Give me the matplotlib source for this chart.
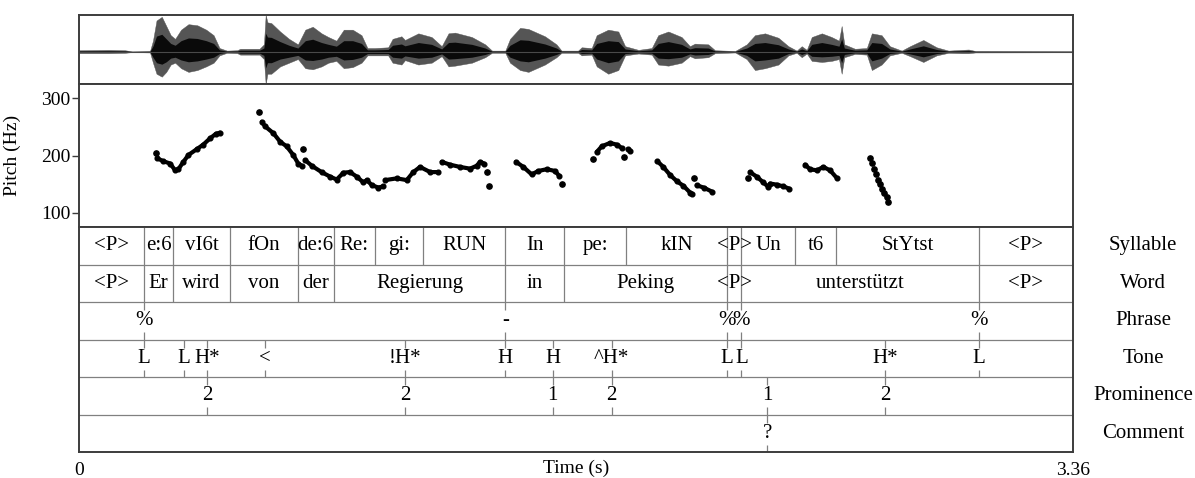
import numpy as np
import matplotlib
matplotlib.use("Agg")
import matplotlib.pyplot as plt
import matplotlib.transforms as mtransforms

plt.rcParams['font.family'] = ['Liberation Serif', 'DejaVu Serif']
plt.rcParams['font.size'] = 14

T_END = 3.36

# waveform envelope (top of box = +1)
wave_t = [0.00, 0.10, 0.155, 0.18, 0.24, 0.250, 0.262, 0.280, 0.295, 0.310, 0.325, 0.345, 0.370,
          0.400, 0.430, 0.455, 0.475, 0.50, 0.535, 0.545, 0.610, 0.625, 0.631, 0.637, 0.650, 0.680,
          0.710, 0.740, 0.765, 0.790, 0.820, 0.843, 0.870, 0.895, 0.925, 0.955, 0.975, 1.00, 1.045,
          1.060, 1.090, 1.102, 1.147, 1.192, 1.226, 1.249, 1.271, 1.328, 1.373, 1.396, 1.441, 1.457,
          1.491, 1.519, 1.575, 1.614, 1.631, 1.687, 1.699, 1.733, 1.750, 1.789, 1.823, 1.846, 1.891,
          1.936, 1.958, 1.992, 2.037, 2.065, 2.082, 2.127, 2.150, 2.218, 2.257, 2.285, 2.319, 2.364,
          2.398, 2.426, 2.443, 2.460, 2.477, 2.511, 2.544, 2.569, 2.578, 2.587, 2.623, 2.663, 2.680,
          2.713, 2.741, 2.781, 2.809, 2.854, 2.899, 2.939, 2.984, 3.007, 3.030, 3.36]
wave_up = [0.04, 0.05, 0.04, 0.01, 0.02, 0.30, 0.85, 0.95, 0.70, 0.45, 0.35, 0.60, 0.75,
           0.72, 0.60, 0.45, 0.10, 0.03, 0.04, 0.08, 0.08, 0.20, 1.00, 0.80, 0.78, 0.55,
           0.35, 0.20, 0.60, 0.68, 0.50, 0.40, 0.30, 0.60, 0.60, 0.45, 0.10, 0.10, 0.12,
           0.35, 0.42, 0.32, 0.50, 0.40, 0.15, 0.50, 0.52, 0.40, 0.20, 0.03, 0.03, 0.35,
           0.65, 0.62, 0.42, 0.20, 0.03, 0.03, 0.12, 0.10, 0.45, 0.60, 0.55, 0.15, 0.05,
           0.10, 0.45, 0.55, 0.40, 0.15, 0.22, 0.20, 0.04, 0.02, 0.20, 0.45, 0.50, 0.38,
           0.15, 0.03, 0.15, 0.05, 0.40, 0.50, 0.40, 0.30, 0.70, 0.20, 0.08, 0.10, 0.50,
           0.45, 0.15, 0.03, 0.15, 0.32, 0.12, 0.03, 0.05, 0.06, 0.02, 0.015]
wave_lo = [0.04, 0.04, 0.03, 0.01, 0.02, 0.30, 0.60, 0.68, 0.55, 0.35, 0.30, 0.45, 0.55,
           0.50, 0.40, 0.30, 0.10, 0.03, 0.04, 0.08, 0.08, 0.20, 0.88, 0.60, 0.60, 0.40,
           0.30, 0.20, 0.45, 0.48, 0.40, 0.30, 0.25, 0.45, 0.42, 0.30, 0.10, 0.10, 0.10,
           0.30, 0.35, 0.23, 0.35, 0.30, 0.12, 0.40, 0.38, 0.30, 0.15, 0.03, 0.03, 0.30,
           0.50, 0.55, 0.35, 0.15, 0.03, 0.03, 0.10, 0.08, 0.40, 0.60, 0.50, 0.10, 0.05,
           0.08, 0.35, 0.38, 0.30, 0.12, 0.18, 0.15, 0.04, 0.02, 0.20, 0.50, 0.45, 0.35,
           0.10, 0.03, 0.15, 0.05, 0.25, 0.28, 0.25, 0.20, 0.60, 0.15, 0.06, 0.08, 0.50,
           0.35, 0.10, 0.03, 0.12, 0.28, 0.10, 0.03, 0.04, 0.04, 0.02, 0.015]

# pitch track (Hz), NaN separates voiced stretches
nan = np.nan
track_t = [0.265, 0.285, 0.308, 0.325, 0.336, 0.353, 0.370, 0.398, 0.420, 0.443, 0.463, 0.477, nan,
           0.618, 0.629, 0.657, 0.680, 0.702, 0.724, 0.741, 0.753, nan,
           0.764, 0.787, 0.820, 0.849, 0.871, 0.894, 0.916, 0.939, 0.961, 0.973, 0.990, 1.012, 1.029, nan,
           1.035, 1.074, 1.108, 1.130, 1.153, 1.187, 1.215, nan,
           1.226, 1.254, 1.288, 1.322, 1.344, 1.356, 1.369, nan,
           1.477, 1.502, 1.530, 1.553, 1.581, 1.609, 1.624, nan,
           1.750, 1.767, 1.795, 1.818, 1.835, nan,
           1.855, 1.862, nan,
           1.955, 1.975, 1.998, 2.021, 2.043, 2.066, 2.071, nan,
           2.088, 2.111, 2.139, nan,
           2.268, 2.291, 2.313, 2.330, 2.336, 2.359, 2.381, 2.401, nan,
           2.454, 2.471, 2.494, 2.516, 2.539, 2.561]
track_hz = [195, 190, 186, 174, 176, 189, 201, 211, 219, 230, 238, 240, nan,
            259, 251, 239, 224, 216, 201, 186, 182, nan,
            192, 182, 171, 163, 158, 170, 171, 163, 153, 157, 148, 144, 146, nan,
            157, 160, 157, 171, 180, 171, 171, nan,
            189, 184, 180, 177, 182, 189, 186, nan,
            189, 180, 167, 173, 176, 173, 164, nan,
            206, 216, 222, 219, 213, nan,
            211, 208, nan,
            190, 180, 166, 155, 147, 135, 133, nan,
            148, 144, 137, nan,
            171, 163, 153, 145, 151, 149, 146, 142, nan,
            184, 176, 174, 180, 174, 161]
dots_t = [0.260, 0.610, 0.758, 1.378, 1.385, 1.632, 1.737, 1.843, 2.080, 2.263,
          2.674, 2.682, 2.688, 2.693, 2.700, 2.708, 2.715, 2.722, 2.730, 2.736]
dots_hz = [205, 276, 211, 171, 147, 151, 194, 198, 161, 161,
           196, 187, 177, 167, 158, 150, 142, 135, 127, 118]

# annotation tiers
syl_bounds = [0.220, 0.319, 0.510, 0.739, 0.861, 1.000, 1.162, 1.441, 1.641, 1.849, 2.190, 2.239,
              2.421, 2.560, 3.041]
syl_labels = ['<P>', 'e:6', 'vI6t', 'fOn', 'de:6', 'Re:', 'gi:', 'RUN', 'In', 'pe:', 'kIN', '<P>',
              'Un', 't6', 'StYtst', '<P>']
word_bounds = [0.220, 0.319, 0.510, 0.739, 0.861, 1.441, 1.641, 2.190, 2.239, 3.041]
word_labels = ['<P>', 'Er', 'wird', 'von', 'der', 'Regierung', 'in', 'Peking', '<P>', 'unterstützt', '<P>']
phrase_t = [0.220, 1.441, 2.190, 2.239, 3.041]
phrase_labels = ['%', '-', '%', '%', '%']
tone_t = [0.220, 0.355, 0.433, 0.630, 1.103, 1.441, 1.601, 1.800, 2.190, 2.239, 2.725, 3.041]
tone_labels = ['L', 'L', 'H*', '<', '!H*', 'H', 'H', '^H*', 'L', 'L', 'H*', 'L']
prom_t = [0.433, 1.103, 1.601, 1.800, 2.326, 2.725]
prom_labels = ['2', '2', '1', '2', '1', '2']
comment_t = [2.326]
comment_labels = ['?']
tier_names = ['Syllable', 'Word', 'Phrase', 'Tone', 'Prominence', 'Comment']

FRAME = '#3c3c3c'
GRID = '#808080'
TIER_FS = 15

fig = plt.figure(figsize=(11.95, 4.78), dpi=100)
L = 79 / 1195
W = 994 / 1195


def ypos(px):
    return 1 - px / 478


ax_w = fig.add_axes([L, ypos(84), W, (84 - 15) / 478])
ax_p = fig.add_axes([L, ypos(227), W, (227 - 84) / 478])
ax_t = fig.add_axes([L, ypos(452), W, (452 - 227) / 478])

for a in (ax_w, ax_p, ax_t):
    a.set_xlim(0, T_END)
    for s in a.spines.values():
        s.set_color(FRAME)
        s.set_linewidth(1.4)

# waveform
wl = [-v for v in wave_lo]
ax_w.fill_between(wave_t, wave_up, wl, color='#555555', lw=0.3)
ax_w.fill_between(wave_t, [0.5 * v for v in wave_up], [0.5 * v for v in wl], color='#0a0a0a', lw=0)
ax_w.axhline(0, color='#4a4a4a', lw=0.8)
ax_w.set_ylim(-0.88, 1.0)
ax_w.set_xticks([])
ax_w.set_yticks([])

# pitch
ax_p.plot(track_t, track_hz, '-o', color='black', lw=3.0, ms=3.4, solid_capstyle='round')
ax_p.plot(dots_t, dots_hz, 'o', color='black', ms=3.8)
ax_p.set_ylim(75, 325)
ax_p.set_yticks([100, 200, 300])
ax_p.set_xticks([])
ax_p.tick_params(axis='y', length=5, width=1, color=FRAME, pad=1, labelsize=14)
ax_p.set_ylabel('Pitch (Hz)', fontsize=14)
ax_p.yaxis.set_label_coords(-0.058, 0.5)

# tiers
ax_t.set_ylim(0, 6)
ax_t.set_yticks([])
for y in range(1, 6):
    ax_t.axhline(y, color=GRID, lw=0.9)


def interval_tier(k, bounds, labels):
    y0, y1 = 5 - k, 6 - k
    ax_t.vlines(bounds, y0, y1, color=GRID, lw=0.9)
    edges = [0] + bounds + [T_END]
    for i, lab in enumerate(labels):
        ax_t.text((edges[i] + edges[i + 1]) / 2, y0 + 0.5, lab, ha='center', va='center', fontsize=TIER_FS)


def point_tier(k, times, labels):
    y0, y1 = 5 - k, 6 - k
    ax_t.vlines(times, y1 - 0.22, y1, color=GRID, lw=0.9)
    ax_t.vlines(times, y0, y0 + 0.2, color=GRID, lw=0.9)
    for t, lab in zip(times, labels):
        ax_t.text(t, y0 + 0.5, lab, ha='center', va='center', fontsize=TIER_FS)


interval_tier(0, syl_bounds, syl_labels)
interval_tier(1, word_bounds, word_labels)
point_tier(2, phrase_t, phrase_labels)
point_tier(3, tone_t, tone_labels)
point_tier(4, prom_t, prom_labels)
point_tier(5, comment_t, comment_labels)

trans = mtransforms.blended_transform_factory(ax_t.transAxes, ax_t.transData)
for k, name in enumerate(tier_names):
    ax_t.text(1.0705, 5.5 - k, name, transform=trans, ha='center', va='center', fontsize=TIER_FS)

ax_t.set_xticks([0, T_END])
ax_t.set_xticklabels(['0', '3.36'])
ax_t.tick_params(axis='x', length=0, pad=7, labelsize=14)
ax_t.set_xlabel('Time (s)', fontsize=14, labelpad=-14)

fig.savefig('out.png', dpi=100, facecolor='white')
